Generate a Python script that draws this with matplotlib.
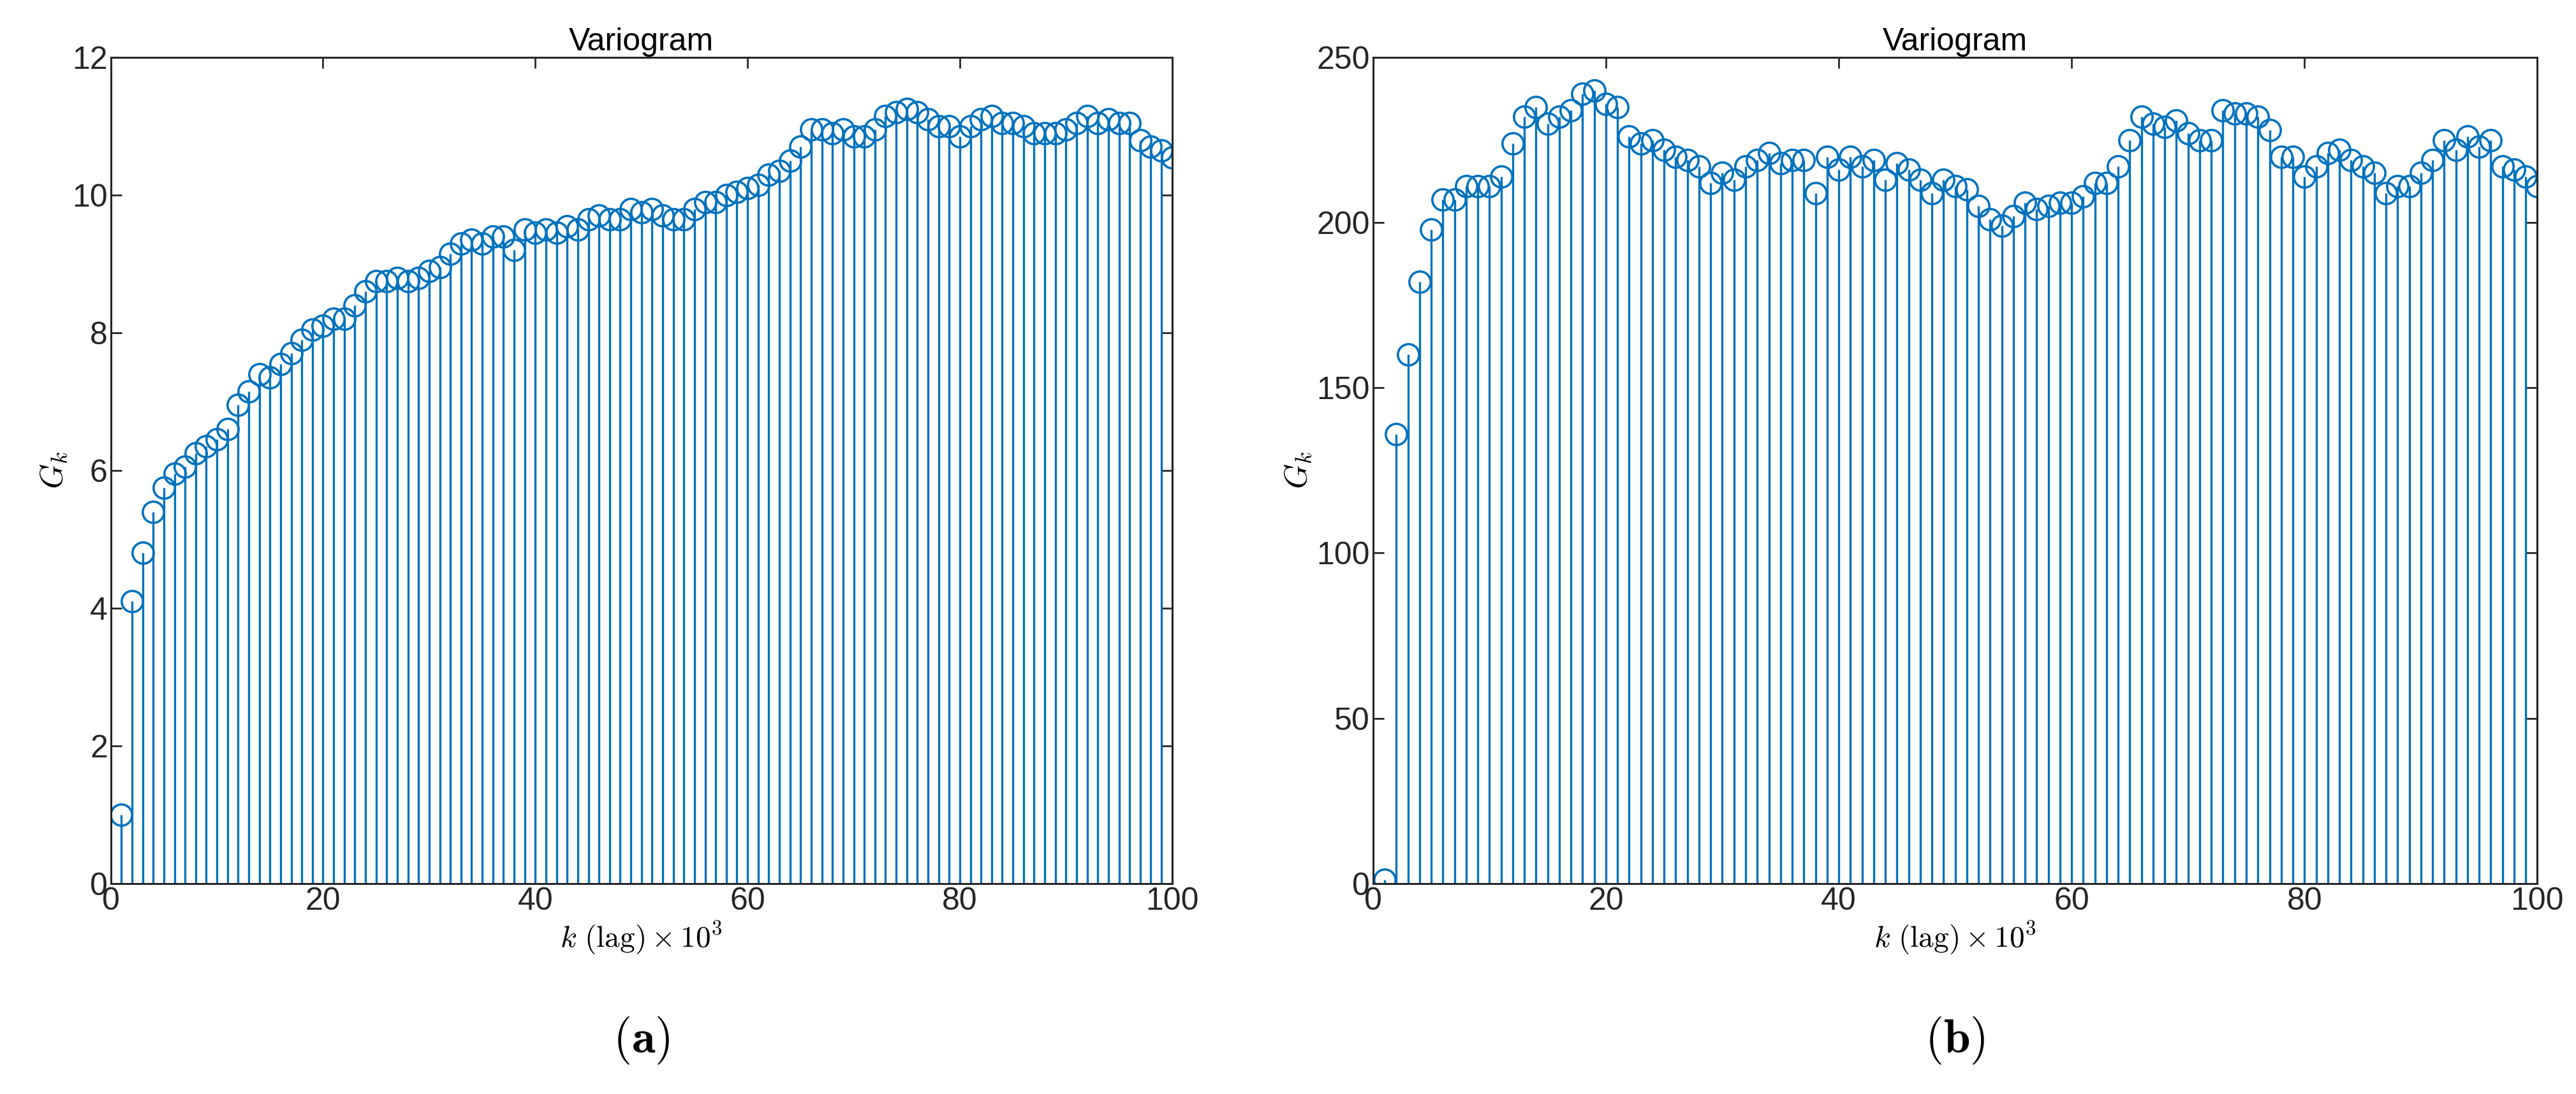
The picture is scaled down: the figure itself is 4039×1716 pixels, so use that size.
import numpy as np
import matplotlib
matplotlib.use("Agg")
import matplotlib.pyplot as plt

plt.rcParams["font.family"] = ["Liberation Sans", "DejaVu Sans"]
plt.rcParams["mathtext.fontset"] = "cm"

# Lags 1..100 (x 10^3)
lags = np.arange(1, 101)

# Panel (a) variogram values
gk_a = [1.0, 4.1, 4.8, 5.4, 5.75, 5.95, 6.05, 6.25, 6.35, 6.45,
        6.6, 6.95, 7.15, 7.4, 7.35, 7.55, 7.7, 7.9, 8.05, 8.1,
        8.2, 8.2, 8.4, 8.6, 8.75, 8.75, 8.8, 8.75, 8.8, 8.9,
        8.95, 9.15, 9.3, 9.35, 9.3, 9.4, 9.4, 9.2, 9.5, 9.45,
        9.5, 9.45, 9.55, 9.5, 9.65, 9.7, 9.65, 9.65, 9.8, 9.75,
        9.8, 9.7, 9.65, 9.65, 9.8, 9.9, 9.9, 10.0, 10.05, 10.1,
        10.15, 10.3, 10.35, 10.5, 10.7, 10.95, 10.95, 10.9, 10.95, 10.85,
        10.85, 10.95, 11.15, 11.2, 11.25, 11.2, 11.1, 11.0, 11.0, 10.85,
        11.0, 11.1, 11.15, 11.05, 11.05, 11.0, 10.9, 10.9, 10.9, 10.95,
        11.05, 11.15, 11.05, 11.1, 11.05, 11.05, 10.8, 10.7, 10.65, 10.55]

# Panel (b) variogram values
gk_b = [1, 136, 160, 182, 198, 207, 207, 211, 211, 211,
        214, 224, 232, 235, 230, 232, 234, 239, 240, 236,
        235, 226, 224, 225, 222, 220, 219, 217, 212, 215,
        213, 217, 219, 221, 218, 219, 219, 209, 220, 216,
        220, 217, 219, 213, 218, 216, 213, 209, 213, 211,
        210, 205, 201, 199, 202, 206, 204, 205, 206, 206,
        208, 212, 212, 217, 225, 232, 230, 229, 231, 227,
        225, 225, 234, 233, 233, 232, 228, 220, 220, 214,
        217, 221, 222, 219, 217, 215, 209, 211, 211, 215,
        219, 225, 222, 226, 223, 225, 217, 216, 214, 211]

color = "#0072BD"
fig = plt.figure(figsize=(40.39, 17.16), dpi=100)
ax_a = fig.add_axes([0.043, 0.1925, 0.412, 0.755])
ax_b = fig.add_axes([0.533, 0.1925, 0.452, 0.755])

panels = [(ax_a, gk_a, (0, 12), np.arange(0, 13, 2), "a"),
          (ax_b, gk_b, (0, 250), np.arange(0, 251, 50), "b")]

for ax, vals, ylim, yticks, tag in panels:
    ml, sl, bl = ax.stem(lags, vals, linefmt="-", markerfmt="o", basefmt=" ")
    plt.setp(sl, color=color, linewidth=2.4)
    plt.setp(ml, markerfacecolor="none", markeredgecolor=color,
             markersize=24, markeredgewidth=2.6)
    ax.set_xlim(0, 100)
    ax.set_ylim(*ylim)
    ax.set_xticks(np.arange(0, 101, 20))
    ax.set_yticks(yticks)
    ax.tick_params(direction="in", top=True, right=True, labelsize=36,
                   length=12, width=2, colors="#262626", labelcolor="#262626")
    for s in ax.spines.values():
        s.set_linewidth(2.2)
        s.set_color("#262626")
    ax.set_title("Variogram", fontsize=36, pad=8)
    ax.set_ylabel(r"$G_k$", fontsize=36)
    ax.set_xlabel(r"$k\ \mathrm{(lag)} \times 10^3$", fontsize=34, labelpad=4)
    ax.text(0.5, -0.19, r"$(\mathbf{" + tag + "})$", transform=ax.transAxes,
            ha="center", va="center", fontsize=54)

fig.savefig("out.png", dpi=100)
